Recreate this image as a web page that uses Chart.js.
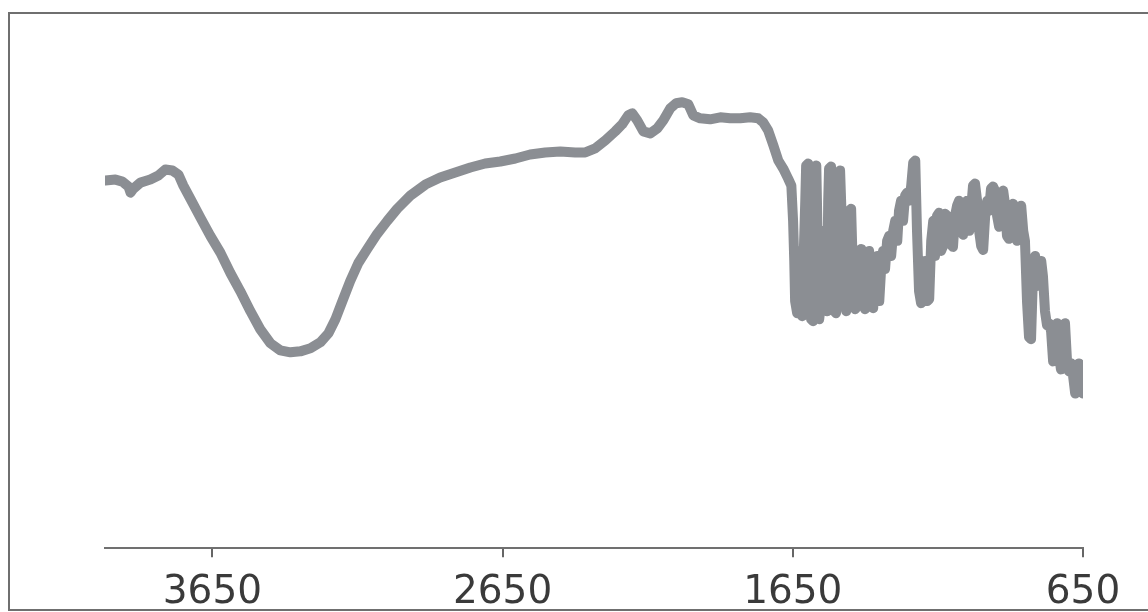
<!DOCTYPE html>
<html>
<head>
<meta charset="utf-8">
<script src="https://cdn.jsdelivr.net/npm/chart.js@4"></script>
<style>
  html, body { margin:0; padding:0; background:#fff; }
  #wrap { position:relative; width:1148px; height:612px; overflow:hidden; }
  #frame { position:absolute; left:8px; top:12px; width:1160px; height:599px; border:2px solid #6f6f6f; box-sizing:border-box; }
  canvas { position:absolute; left:0; top:0; }
</style>
</head>
<body>
<div id="wrap">
  <div id="frame"></div>
  <canvas id="ir" width="1148" height="628"></canvas>
</div>
<script>
// wavenumber (cm-1) and transmittance
const wavenumbers = [
  4019,3984,3960,3939,3932,3922,3898,3864,3836,3812,3788,3767,3750,3726,3691,3657,3622,3588,3554,3519,
  3485,3450,3416,3381,3347,3312,3278,3250,3226,3202,3175,3147,3116,3082,3047,3013,2968,2916,2865,2813,
  2761,2710,2658,2606,2555,2503,2451,2400,2365,2331,2296,2262,2238,2217,2203,2186,2165,2141,2117,2096,
  2072,2052,2031,2010,1993,1969,1935,1900,1866,1831,1797,1769,1752,1735,1717,1700,1683,1666,1655,
  1649,1645,1642,1635,1628,1624,1618,1611,1607,1604,1597,1590,1587,1580,1573,1569,1563,1559,1552,1545,
  1538,1532,1528,1525,1518,1511,1507,1501,1494,1487,1480,1473,1466,1459,1456,1449,1442,1435,1428,1421,
  1414,1408,1401,1394,1387,1380,1373,1366,1359,1352,1346,1339,1332,1325,1318,1311,1304,1297,1290,1284,
  1277,1270,1263,1256,1249,1242,1235,1228,1222,1215,1208,1201,1194,1187,1180,1173,1166,1160,1153,1146,
  1139,1132,1125,1118,1111,1104,1098,1091,1084,1077,1070,1063,1056,1049,1042,1036,1029,1022,1015,1008,
  1001,994,987,980,974,967,960,953,946,939,932,925,918,912,905,898,891,884,877,870,
  863,856,850,843,836,829,822,815,808,801,794,788,781,774,767,760,753,746,739,732,
  726,719,712,705,698,691,684,677,670,664,657,650
];
const transmittance = [
  73.2,73.4,73.0,72.0,70.8,71.6,72.8,73.4,74.2,75.4,75.2,74.4,72.2,69.6,65.8,62.2,58.8,54.8,51.2,47.2,
  43.6,40.8,39.4,39.0,39.2,39.8,41.0,42.8,45.6,49.2,53.2,56.8,59.6,62.6,65.2,67.6,70.2,72.4,73.8,74.8,
  75.8,76.6,77.0,77.6,78.4,78.8,79.0,78.8,78.8,79.6,81.2,83.0,84.4,86.2,86.6,85.2,83.0,82.6,83.6,85.2,
  87.6,88.6,88.8,88.4,86.2,85.6,85.4,85.8,85.6,85.6,85.8,85.6,84.8,83.2,80.2,77.2,75.6,73.6,72.2,
  65.2,57.2,49.2,46.8,59.2,49.2,46.2,61.2,69.2,76.2,76.6,59.2,45.6,45.2,69.2,76.2,57.2,45.6,49.2,63.2,
  51.2,47.2,69.2,75.6,76.0,59.2,47.2,46.8,69.2,75.2,63.2,49.2,47.2,61.2,67.2,67.6,53.2,47.6,48.2,59.2,
  59.6,49.2,47.6,57.2,59.2,48.2,47.8,56.2,58.2,49.2,55.2,59.2,55.6,61.2,62.2,58.2,63.2,65.2,61.2,67.2,
  69.2,65.2,70.2,70.8,69.2,72.2,76.8,77.2,63.2,51.2,48.8,49.2,57.2,49.2,49.6,61.2,65.2,58.2,66.2,66.8,
  59.2,60.2,66.6,66.2,62.2,60.4,60.0,66.2,68.2,69.2,63.2,62.4,68.2,69.2,63.2,67.2,72.2,72.6,69.2,63.2,
  60.2,59.4,66.2,69.2,67.2,71.6,72.0,71.2,66.2,64.0,70.2,71.2,68.2,62.2,61.6,68.2,68.6,62.2,61.2,67.2,
  68.2,63.2,61.2,49.2,42.0,41.6,55.2,58.2,52.2,53.2,57.2,54.2,47.2,44.4,44.8,43.2,37.2,41.2,44.8,38.2,
  35.6,43.2,44.8,37.2,35.2,36.8,34.2,30.8,32.2,36.8,34.2,30.8
];
const xTicks = [3650, 2650, 1650, 650];

const points = wavenumbers.map((w, i) => ({x: w, y: transmittance[i]}));

new Chart(document.getElementById('ir'), {
  type: 'line',
  data: { datasets: [{
    data: points,
    borderColor: '#8b8e93',
    borderWidth: 10,
    borderJoinStyle: 'round',
    borderCapStyle: 'round',
    pointRadius: 0,
    tension: 0,
    fill: false
  }]},
  options: {
    responsive: false,
    animation: false,
    layout: { padding: { left: 105, right: 65, top: 46, bottom: 0 } },
    plugins: { legend: { display: false }, tooltip: { enabled: false } },
    scales: {
      x: {
        type: 'linear', reverse: true, min: 650, max: 4020,
        afterBuildTicks: s => { s.ticks = xTicks.map(v => ({value: v})); },
        ticks: {
          font: { family: 'DejaVu Sans', size: 39 }, color: '#3a3a3a', padding: 12, maxRotation: 0,
          callback: v => String(v)
        },
        grid: { display: true, drawOnChartArea: false, drawTicks: true, tickLength: 9, color: '#666', lineWidth: 2 },
        border: { display: true, color: '#707070', width: 2 }
      },
      y: { display: false, min: 0, max: 100 }
    }
  }
});
</script>
</body>
</html>
